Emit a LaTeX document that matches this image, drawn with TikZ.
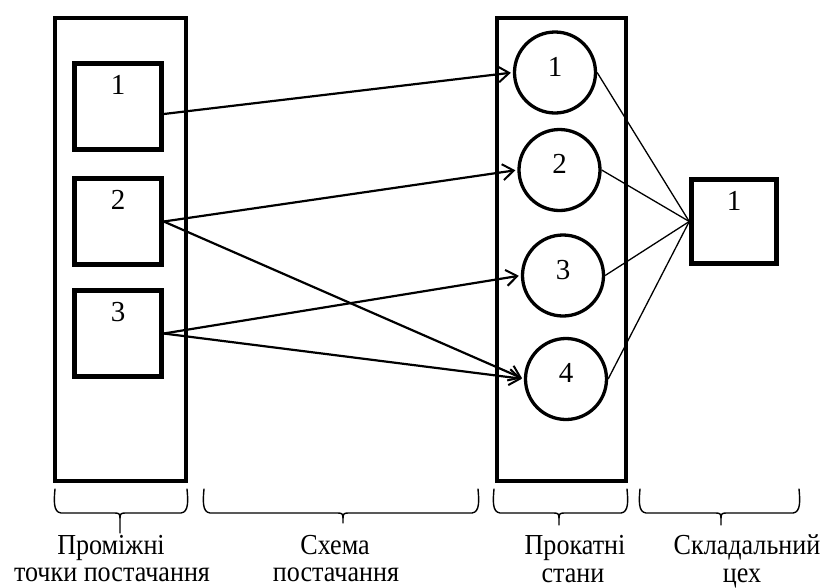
\documentclass[tikz,border=0pt]{standalone}
\usepackage{fontspec}
\setmainfont{Liberation Serif}
\newfontfamily\lblfont[FakeStretch=0.9]{Liberation Serif}
\usetikzlibrary{arrows.meta,calc}
\tikzset{
  outerbox/.style={draw, line width=4.5pt, minimum width=130pt, minimum height=463pt, inner sep=0pt},
  smallbox/.style={draw, line width=4.5pt, minimum width=87pt, minimum height=86pt, inner sep=0pt},
  roll/.style={draw, circle, line width=3.3pt, minimum size=81pt, inner sep=0pt},
  num/.style={font=\fontsize{29}{30}\selectfont, inner sep=0pt, anchor=base},
  lbl/.style={font=\lblfont\fontsize{29}{30}\selectfont, inner sep=0pt, anchor=base},
  feed/.style={line width=2.2pt, -{Straight Barb[length=11pt,width=16pt,line width=2pt]}, shorten >=2pt},
  link/.style={line width=1.3pt},
  bracepath/.style={line width=1.4pt, line cap=round, line join=round}
}
\begin{document}
\begin{tikzpicture}[x=1pt,y=-1pt]
\useasboundingbox (0,0) rectangle (824,587);
% containers
\node[outerbox, minimum width=131pt] (L) at (120.5,249.5) {};
\node[outerbox, minimum width=129pt] (R) at (561.5,249.5) {};
% intermediate points
\node[smallbox] (b1) at (118,106.5) {};
\node[smallbox] (b2) at (118,221.5) {};
\node[smallbox] (b3) at (118,333.5) {};
\node[num] (b1t) at ($(b1.north)+(0,33)$) {1};
\node[num] (b2t) at ($(b2.north)+(0,33)$) {2};
\node[num] (b3t) at ($(b3.north)+(0,33)$) {3};
% rolling mills
\node[roll] (c1) at (555,72.5) {};
\node[roll] (c2) at (559.5,170) {};
\node[roll] (c3) at (563,275.5) {};
\node[roll] (c4) at (566,379) {};
\node[num] (c1t) at ($(c1.center)+(0,3.5)$) {1};
\node[num] (c2t) at ($(c2.center)+(0,3.5)$) {2};
\node[num] (c3t) at ($(c3.center)+(0,3.5)$) {3};
\node[num] (c4t) at ($(c4.center)+(0,3.5)$) {4};
% assembly shop
\node[smallbox, minimum width=85pt, minimum height=84pt] (sq) at (734,221.5) {};
\node[num] (sqt) at ($(sq.north)+(0,33)$) {1};
% supply arrows
\draw[feed] ([yshift=-7.5pt]b1.east) -- (c1.west);
\draw[feed] (b2.east) -- (c2.west);
\draw[feed] (b2.east) -- (c4.west);
\draw[feed] (b3.east) -- (c3.west);
\draw[feed] (b3.east) -- (c4.west);
% links to assembly
\draw[link] (c1.east) -- (sq.west);
\draw[link] (c2.east) -- (sq.west);
\draw[link] (c3.east) -- (sq.west);
\draw[link] (c4.east) -- (sq.west);
% braces
\foreach \xa/\xm/\xb/\yb in {55/120/187/533, 204/343/478/523, 494/559/627/525, 640/721/799/525}{
  \draw[bracepath] (\xa,489) .. controls (\xa-1,500) and (\xa-2,512) .. (\xa+6,513)
     -- (\xm-5,513) .. controls (\xm-1,513) and (\xm,514) .. (\xm,518) -- (\xm,\yb);
  \draw[bracepath] (\xm,518) .. controls (\xm,514) and (\xm+1,513) .. (\xm+5,513)
     -- (\xb-6,513) .. controls (\xb+2,512) and (\xb+1,500) .. (\xb,489);
}
% labels
\node[lbl] (l1a) at (111,554) {Проміжні};
\node[lbl] (l1b) at (112,581) {точки постачання};
\node[lbl] (l2a) at (335,554) {Схема};
\node[lbl] (l2b) at (336,581) {постачання};
\node[lbl] (l3a) at (575,554) {Прокатні};
\node[lbl] (l3b) at (573,582) {стани};
\node[lbl] (l4a) at (747,554) {Складальний};
\node[lbl] (l4b) at (742,582) {цех};
\end{tikzpicture}
\end{document}
